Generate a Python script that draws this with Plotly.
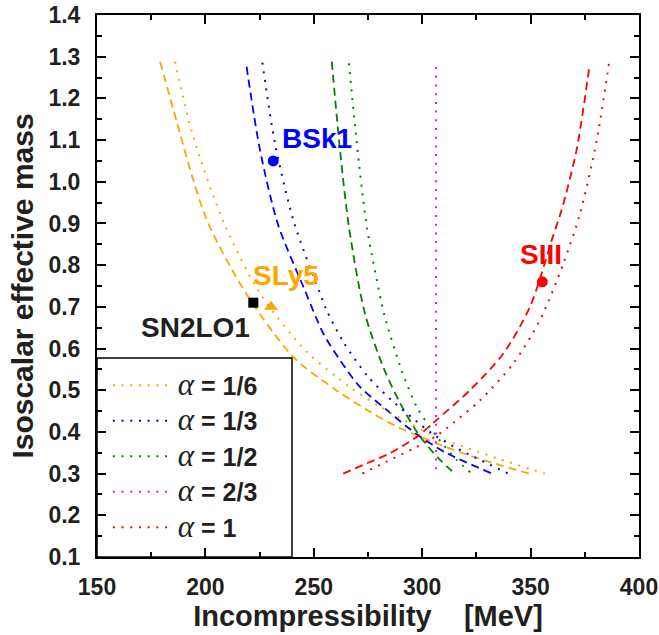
import plotly.graph_objects as go

# Isoscalar effective mass vs incompressibility for several alpha values.
# Dotted curves: one family; dashed curves: the other family.
alpha_labels = ["1/6", "1/3", "1/2", "2/3", "1"]
colors = ["#FFA500", "#0000FF", "#008000", "#FF00FF", "#FF0000"]

# dotted curves (K [MeV], m*/m)
dot_k = [
    [186.0, 194.4, 209.0, 225.2, 246.7, 260.5, 266.7, 280.5, 306.4, 319.0, 334.4, 356.6],
    [226.3, 232.1, 240.9, 252.9, 255.9, 263.6, 275.1, 285.9, 301.3, 306.4, 314.4, 339.7],
    [266.2, 269.7, 274.5, 282.0, 283.6, 290.5, 297.5, 306.7, 315.9, 322.8],
    [306.4, 306.4],
    [272.4, 283.6, 295.9, 306.4, 311.3, 326.7, 342.0, 354.3, 365.1, 372.8, 380.5, 386.2],
]
dot_m = [
    [1.288, 1.108, 0.896, 0.732, 0.592, 0.532, 0.507, 0.461, 0.388, 0.365, 0.337, 0.300],
    [1.286, 1.092, 0.902, 0.732, 0.692, 0.616, 0.532, 0.476, 0.409, 0.390, 0.365, 0.300],
    [1.284, 1.100, 0.890, 0.692, 0.660, 0.548, 0.460, 0.389, 0.333, 0.300],
    [1.275, 0.300],
    [0.300, 0.329, 0.360, 0.390, 0.409, 0.476, 0.564, 0.668, 0.804, 0.924, 1.100, 1.286],
]

# dashed curves (K [MeV], m*/m); no dashed curve for alpha = 2/3
dash_k = [
    [179.1, 186.8, 194.4, 201.3, 218.3, 240.5, 259.0, 274.4, 288.2, 299.0, 314.4, 332.8, 349.4],
    [219.0, 225.2, 233.6, 245.2, 254.4, 262.1, 271.3, 283.6, 292.8, 299.0, 311.3, 332.3],
    [258.3, 262.1, 266.3, 273.6, 282.0, 289.8, 299.0, 308.2, 315.1],
    None,
    [263.6, 272.8, 285.1, 298.2, 306.7, 322.0, 337.4, 349.7, 360.5, 364.3, 371.2, 377.1],
]
dash_m = [
    [1.288, 1.144, 1.004, 0.900, 0.736, 0.580, 0.505, 0.453, 0.413, 0.389, 0.357, 0.325, 0.300],
    [1.276, 1.076, 0.896, 0.748, 0.636, 0.572, 0.508, 0.453, 0.413, 0.389, 0.349, 0.300],
    [1.288, 1.076, 0.888, 0.684, 0.556, 0.469, 0.389, 0.333, 0.300],
    None,
    [0.300, 0.321, 0.349, 0.391, 0.429, 0.500, 0.588, 0.700, 0.872, 0.932, 1.076, 1.276],
]

# Skyrme parametrisations
force_names = ["BSk1", "SLy5", "SN2LO1", "SIII"]
force_k = [231.3, 230.3, 222.1, 355.4]
force_m = [1.05, 0.70, 0.71, 0.76]
force_colors = ["#0000FF", "#FFA500", "#000000", "#FF0000"]
force_symbols = ["circle", "triangle-up", "square", "circle"]
force_sizes = [11, 12, 10, 11]
label_colors = ["#0000FF", "#FFA500", "#231F20", "#FF0000"]
label_k = [251.3, 237.1, 195.3, 354.7]
label_m = [1.103, 0.776, 0.650, 0.826]

ink = "#231F20"
FONT = "Liberation Sans"

fig = go.Figure()

for i, a in enumerate(alpha_labels):
    if dash_k[i] is not None:
        fig.add_trace(go.Scatter(
            x=dash_k[i], y=dash_m[i], mode="lines",
            line=dict(color=colors[i], width=1.8, dash="8px,5px", shape="spline", smoothing=0.8),
            showlegend=False, hoverinfo="skip"))

for i, a in enumerate(alpha_labels):
    name = ('<span style="font-family:\'Liberation Serif\';font-style:italic;font-weight:normal;font-size:31px">α</span>'
            ' <b>= ' + a + '</b>')
    fig.add_trace(go.Scatter(
        x=dot_k[i], y=dot_m[i], mode="lines", name=name,
        legendgroup="g%d" % i,
        line=dict(color=colors[i], width=2, dash="2px,6.7px", shape="spline", smoothing=0.8)))

for i, n in enumerate(force_names):
    fig.add_trace(go.Scatter(
        x=[force_k[i]], y=[force_m[i]], mode="markers",
        marker=dict(color=force_colors[i], symbol=force_symbols[i], size=force_sizes[i],
                    line=dict(width=0)),
        showlegend=False, hoverinfo="skip"))
    fig.add_annotation(x=label_k[i], y=label_m[i], xref="x", yref="y", text="<b>%s</b>" % n,
                       showarrow=False, xanchor="center", yanchor="middle",
                       font=dict(family=FONT, size=28, color=label_colors[i]))

axis_common = dict(
    showline=True, linecolor="black", linewidth=2, mirror="allticks",
    ticks="inside", ticklen=9, tickwidth=1.5, tickcolor="black",
    showgrid=False, zeroline=False,
    tickfont=dict(family=FONT, size=23, color=ink),
)

fig.update_xaxes(
    range=[150, 400], tickmode="array",
    tickvals=[150, 200, 250, 300, 350, 400],
    ticktext=["<b>%d</b>" % v for v in [150, 200, 250, 300, 350, 400]],
    minor=dict(tickmode="array", tickvals=[175, 225, 275, 325, 375], ticks="inside",
               ticklen=5, tickwidth=1.5, tickcolor="black"),
    ticklabelstandoff=8,
    title=dict(text="<b>Incompressibility    [MeV]</b>", font=dict(family=FONT, size=29, color=ink), standoff=6),
    **axis_common)

yt = [round(0.1 * k, 1) for k in range(1, 15)]
fig.update_yaxes(
    range=[0.1, 1.4], tickmode="array", tickvals=yt,
    ticktext=["<b>%.1f</b>" % v for v in yt],
    minor=dict(tickmode="array", tickvals=[round(0.05 + 0.1 * k, 2) for k in range(1, 14)],
               ticks="inside", ticklen=5, tickwidth=1.5, tickcolor="black"),
    ticklabelstandoff=10,
    title=dict(text="<b>Isoscalar effective mass</b>", font=dict(family=FONT, size=30, color=ink), standoff=6),
    **axis_common)

# legend frame
fig.add_shape(type="rect", xref="paper", yref="paper", x0=0, y0=0, x1=195 / 542, y1=199 / 542,
              line=dict(color="black", width=1.5), fillcolor="rgba(0,0,0,0)", layer="above")

fig.update_layout(
    width=659, height=635,
    margin=dict(l=97, r=20, t=15, b=78, autoexpand=False),
    plot_bgcolor="white", paper_bgcolor="white",
    showlegend=True,
    legend=dict(x=0.02, y=0.012, xanchor="left", yanchor="bottom",
                bgcolor="rgba(0,0,0,0)", borderwidth=0,
                font=dict(family=FONT, size=25, color=ink),
                itemwidth=60, traceorder="grouped", tracegroupgap=0),
)

fig.write_html("out.html")
